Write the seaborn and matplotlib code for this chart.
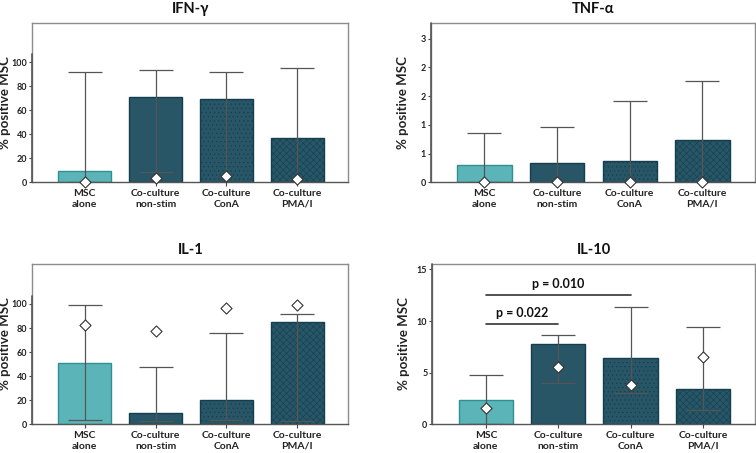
import numpy as np
import pandas as pd
import matplotlib
matplotlib.use("Agg")
import matplotlib.pyplot as plt
import seaborn as sns

sns.set_theme(style="white")
plt.rcParams["font.family"] = ["Lato", "DejaVu Sans"]
plt.rcParams["hatch.linewidth"] = 0.35

groups = ["MSC\nalone", "Co-culture\nnon-stim", "Co-culture\nConA", "Co-culture\nPMA/I"]
bar_colors = ["#4cc4c7", "#1e5b71", "#1e5b71", "#1e5b71"]
bar_edges = ["#2f8f93", "#123e4f", "#123e4f", "#123e4f"]
hatches = ["", "", "....", "xxxxx"]

# IFN-gamma
ifn_bar = [9.7, 71.1, 69.2, 36.9]
ifn_low = [0.0, 8.3, 0.0, 0.0]
ifn_high = [91.7, 93.3, 91.9, 95.3]
ifn_median = [0.5, 3.3, 5.5, 3.0]

# TNF-alpha
tnf_bar = [0.30, 0.34, 0.37, 0.73]
tnf_low = [0.0, 0.0, 0.0, 0.0]
tnf_high = [0.855, 0.965, 1.41, 1.77]
tnf_median = [0.0, 0.0, 0.0, 0.0]

# IL-1
il1_bar = [50.7, 9.7, 20.5, 85.3]
il1_low = [3.3, 2.5, 3.3, 2.5]
il1_high = [98.9, 47.9, 75.6, 91.4]
il1_median = [82.5, 77.6, 96.4, 98.9]

# IL-10
il10_bar = [2.32, 7.8, 6.39, 3.39]
il10_low = [0.0, 4.0, 3.0, 1.42]
il10_high = [4.77, 8.61, 11.39, 9.42]
il10_median = [1.61, 5.58, 3.81, 6.55]

panels = [
    dict(title="IFN-γ", bar=ifn_bar, low=ifn_low, high=ifn_high, med=ifn_median,
         ticks=[0, 20, 40, 60, 80, 100], labels=["0", "20", "40", "60", "80", "100"],
         ylim=133, axis_top=107, pos=[0.0427, 0.5976, 0.418, 0.3523]),
    dict(title="TNF-α", bar=tnf_bar, low=tnf_low, high=tnf_high, med=tnf_median,
         ticks=[0, 0.5, 1.0, 1.5, 2.0, 2.5], labels=["0", "1", "1", "2", "2", "3"],
         ylim=2.78, axis_top=2.78, pos=[0.5697, 0.5976, 0.4286, 0.3523]),
    dict(title="IL-1", bar=il1_bar, low=il1_low, high=il1_high, med=il1_median,
         ticks=[0, 20, 40, 60, 80, 100], labels=["0", "20", "40", "60", "80", "100"],
         ylim=133.5, axis_top=107, pos=[0.0427, 0.0634, 0.418, 0.3545]),
    dict(title="IL-10", bar=il10_bar, low=il10_low, high=il10_high, med=il10_median,
         ticks=[0, 5, 10, 15], labels=["0", "5", "10", "15"],
         ylim=15.55, axis_top=15.55, pos=[0.5718, 0.0634, 0.4269, 0.3545]),
]

fig = plt.figure(figsize=(7.56, 4.53), dpi=100)

for p in panels:
    ax = fig.add_axes(p["pos"])
    df = pd.DataFrame({"group": groups, "value": p["bar"]})
    sns.barplot(data=df, x="group", y="value", hue="group", palette=bar_colors,
                width=0.75, legend=False, ax=ax, zorder=2)
    for patch, ec, h in zip(ax.patches, bar_edges, hatches):
        patch.set_edgecolor(ec)
        patch.set_linewidth(1.0)
        if h:
            patch.set_hatch(h)
            if hasattr(patch, "set_hatchcolor"):
                patch.set_hatchcolor("#2f7189")
    x = np.arange(len(groups))
    bar = np.array(p["bar"])
    ax.errorbar(x, bar, yerr=[bar - np.array(p["low"]), np.array(p["high"]) - bar],
                fmt="none", ecolor="#555555", elinewidth=0.9, capsize=12, capthick=0.9,
                zorder=3)
    ax.scatter(x, p["med"], marker="D", s=32, facecolor="white", edgecolor="#333333",
               linewidth=0.8, zorder=4, clip_on=False)

    ax.set_xlim(-0.74, 3.72)
    ax.set_ylim(0, p["ylim"])
    ax.set_yticks(p["ticks"])
    ax.set_yticklabels(p["labels"])
    ax.set_xlabel("")
    ax.set_ylabel("% positive MSC", fontsize=9.5, fontweight="bold", color="#222222")
    ax.yaxis.set_label_coords(-0.068, 0.5)
    ax.set_title(p["title"], fontsize=10.5, fontweight="bold", pad=7, color="#111111")
    for s in ax.spines.values():
        s.set_color("#8c8c8c")
        s.set_linewidth(1.0)
    ax.spines["bottom"].set_color("#555555")
    ax.plot([-0.74, -0.74], [0, p["axis_top"]], color="#555555", lw=1.2,
            clip_on=False, zorder=5)
    ax.tick_params(axis="y", direction="out", length=2.5, width=0.8, color="#444444",
                   labelsize=6.5, pad=1, left=True)
    ax.tick_params(axis="x", direction="out", length=3, width=0.8, color="#444444",
                   labelsize=7.5, pad=2, bottom=True)
    for lab in ax.get_xticklabels() + ax.get_yticklabels():
        lab.set_fontweight("bold")
        lab.set_color("#222222")
    for lab in ax.get_xticklabels():
        lab.set_linespacing(1.25)

    if p["title"] == "IL-10":
        ax.plot([0, 1], [9.74, 9.74], color="#333333", lw=1.2, zorder=3)
        ax.text(0.5, 10.2, "p = 0.022", ha="center", va="bottom", fontsize=9,
                fontweight="bold", color="#111111")
        ax.plot([0, 2], [12.55, 12.55], color="#333333", lw=1.2, zorder=3)
        ax.text(1.0, 13.0, "p = 0.010", ha="center", va="bottom", fontsize=9,
                fontweight="bold", color="#111111")

fig.savefig("out.png", dpi=100)
